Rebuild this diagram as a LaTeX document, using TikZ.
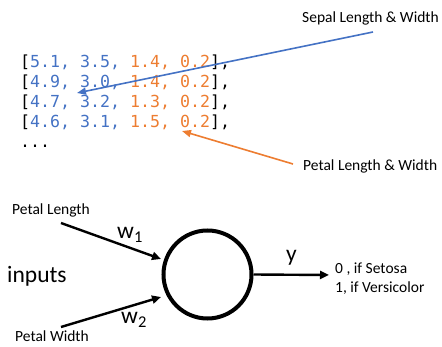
\documentclass[tikz,border=0pt]{standalone}
\usepackage{fontspec}
\setmainfont{Carlito}
\setmonofont{DejaVu Sans Mono}
\usetikzlibrary{arrows.meta}
\definecolor{cblue}{RGB}{68,114,196}
\definecolor{corange}{RGB}{237,125,49}
\begin{document}
\begin{tikzpicture}[x=1pt,y=-1pt,
  code/.style={anchor=base west,inner sep=0pt,font=\ttfamily\fontsize{16.6}{19}\selectfont},
  lbl/.style={anchor=base west,inner sep=0pt,font=\fontsize{15.5}{18}\selectfont},
  big/.style={anchor=base west,inner sep=0pt,font=\fontsize{23.5}{26}\selectfont},
  barrow/.style={line width=2.4pt,-{Triangle[length=9pt,width=8pt]}},
  carrow/.style={line width=1.6pt,-{Triangle[length=9pt,width=7pt]}}]
\useasboundingbox (0,0) rectangle (442,347);
\newcommand{\B}[1]{\textcolor{cblue}{#1}}
\newcommand{\Og}[1]{\textcolor{corange}{#1}}
\node[code] (r1) at (20,68) {[\B{5.1, 3.5, }\Og{1.4, 0.2}],};
\node[code] (r2) at (20,88) {[\B{4.9, 3.0, }\Og{1.4, 0.2}],};
\node[code] (r3) at (20,108) {[\B{4.7, 3.2, }\Og{1.3, 0.2}],};
\node[code] (r4) at (20,128) {[\B{4.6, 3.1, }\Og{1.5, 0.2}],};
\node[code] (r5) at (20,148) {...};
\node[lbl] (sepal) at (302,23) {Sepal Length \& Width};
\node[lbl] (petal) at (303,171) {Petal Length \& Width};
\coordinate (sepalstart) at (373,32);
\coordinate (sepaltip) at (77,93);
\coordinate (petalstart) at (293,164);
\coordinate (petaltip) at (182,131);
\draw[carrow,cblue] (sepalstart) -- (sepaltip);
\draw[carrow,corange] (petalstart) -- (petaltip);
% perceptron
\node[draw,circle,line width=4pt,minimum size=88pt,inner sep=0pt] (neuron) at (207.5,274.5) {};
\node[lbl] (pl) at (12,215) {Petal Length};
\node[lbl] (pw) at (15,342) {Petal Width};
\node[big] (inputs) at (7,283) {inputs};
\coordinate (in1) at (61,223);
\coordinate (in1tip) at (161,259);
\coordinate (in2) at (61,327);
\coordinate (in2tip) at (161,297);
\draw[barrow] (in1) -- (in1tip);
\draw[barrow] (in2) -- (in2tip);
\node[big] (w1) at (117,239) {w\textsubscript{1}};
\node[big] (w2) at (121,324) {w\textsubscript{2}};
\coordinate (outtip) at (329,275);
\draw[barrow] (neuron.east) -- (outtip);
\node[big] (y) at (286,262) {y};
\node[lbl] (o1) at (335,274) {0 , if Setosa};
\node[lbl] (o2) at (335,293) {1, if Versicolor};
\end{tikzpicture}
\end{document}
